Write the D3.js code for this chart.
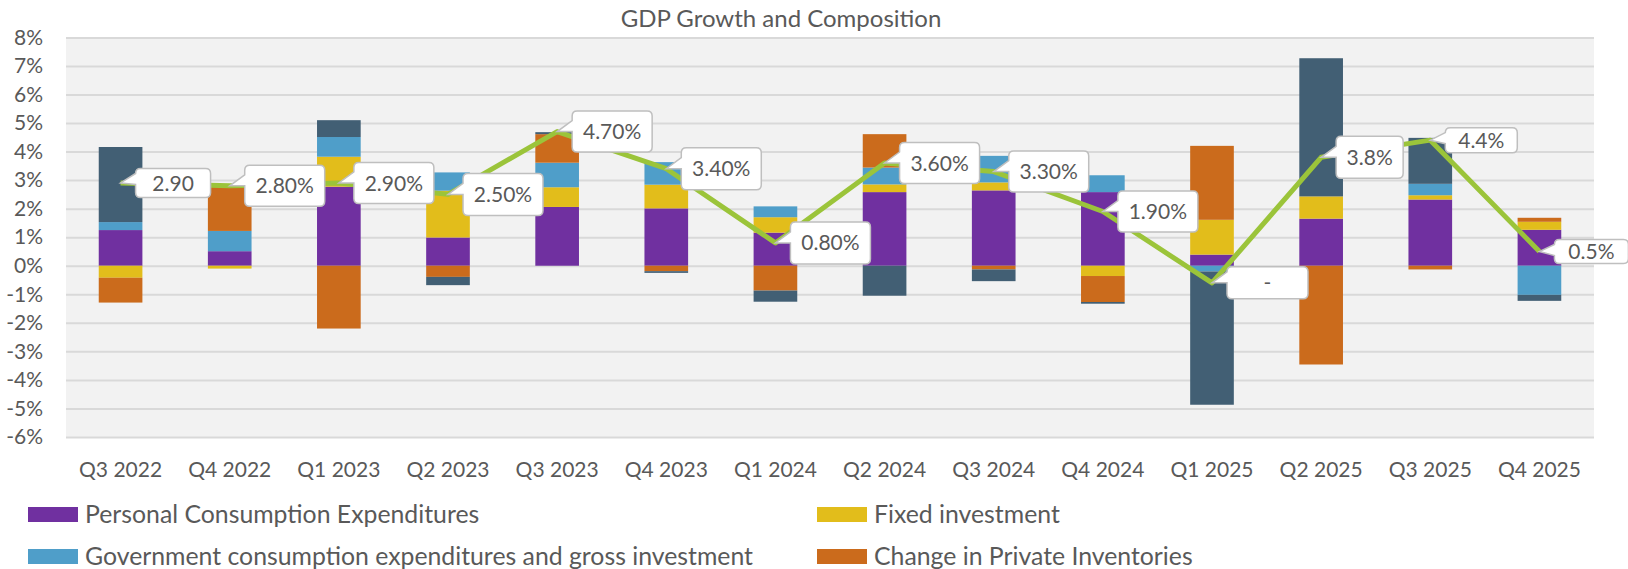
<!DOCTYPE html>
<html>
  <head>
    <meta charset="utf-8"/>
    <script src="https://cdn.jsdelivr.net/npm/d3@7"></script>
    <style type="text/css">

html, body {
  margin: 0;
  padding: 0;
  background: #fff;
}

svg text {
  font-family: Lato, "Open Sans", sans-serif;
  fill: #595959;
}

.grid line {
  stroke: #d9d9d9;
  stroke-width: 2px;
}

.callout path {
  fill: #fff;
  stroke: #bfbfbf;
  stroke-width: 1.5px;
}

    </style>
  </head>
  <body>
    <svg id="chart" width="1628" height="569"></svg>
    <script type="text/javascript">

var quarters = ["Q3 2022", "Q4 2022", "Q1 2023", "Q2 2023", "Q3 2023", "Q4 2023", "Q1 2024",
                "Q2 2024", "Q3 2024", "Q4 2024", "Q1 2025", "Q2 2025", "Q3 2025", "Q4 2025"];

// contributions to growth, percentage points
var pce         = [1.25, 0.51, 2.77, 0.99, 2.06, 2.01, 1.16, 2.58, 2.64, 2.58, 0.39, 1.65, 2.32, 1.26];
var fixedInv    = [-0.42, -0.10, 1.05, 1.64, 0.69, 0.83, 0.54, 0.27, 0.28, -0.36, 1.22, 0.78, 0.15, 0.28];
var government  = [0.28, 0.71, 0.69, 0.64, 0.86, 0.79, 0.38, 0.59, 0.93, 0.59, -0.20, 0.00, 0.40, -1.02];
var inventories = [-0.87, 1.55, -2.20, -0.39, 1.00, -0.19, -0.87, 1.17, -0.13, -0.91, 2.59, -3.46, -0.13, 0.14];
var netExports  = [2.63, 0.00, 0.59, -0.29, 0.07, -0.06, -0.39, -1.05, -0.41, -0.06, -4.67, 4.84, 1.61, -0.21];

var gdp = [2.9, 2.8, 2.9, 2.5, 4.7, 3.4, 0.8, 3.6, 3.3, 1.9, -0.6, 3.8, 4.4, 0.5];
var gdpLabels = ["2.90", "2.80%", "2.90%", "2.50%", "4.70%", "3.40%", "0.80%", "3.60%",
                 "3.30%", "1.90%", "-", "3.8%", "4.4%", "0.5%"];

var yTicks = [-6, -5, -4, -3, -2, -1, 0, 1, 2, 3, 4, 5, 6, 7, 8];

var seriesNames = ["Personal Consumption Expenditures", "Fixed investment",
                   "Government consumption expenditures and gross investment",
                   "Change in Private Inventories", "Net exports"];

var colors = ["#7030a0", "#e2bd1b", "#4f9ec9", "#cb6b1c", "#425f74"];

// callout box sizes (the Excel labels were resized by hand)
var calloutW = [75, 80, 80, 80, 80, 80, 80, 80, 80, 80, 81, 67, 72, 74];
var calloutH = [29, 41, 41, 42, 41, 42, 42, 41, 41, 41, 32, 42, 25, 24];

var svg = d3.select("#chart");

var plotLeft = 66, plotRight = 1594, plotTop = 37.4, plotBottom = 437;

var x = d3.scaleBand()
    .domain(quarters)
    .range([plotLeft, plotRight])
    .paddingInner(0.6)
    .paddingOuter(0.3);

var y = d3.scaleLinear()
    .domain([-6, 8])
    .range([plotBottom, plotTop]);

// rows for stacking
var rows = quarters.map(function(q, i) {
  return {q: q, s0: pce[i], s1: fixedInv[i], s2: government[i], s3: inventories[i], s4: netExports[i]};
});

var stack = d3.stack()
    .keys(["s0", "s1", "s2", "s3", "s4"])
    .offset(d3.stackOffsetDiverging);

var layers = stack(rows);

// plot background
svg.append("rect")
    .attr("x", plotLeft)
    .attr("y", plotTop)
    .attr("width", plotRight - plotLeft)
    .attr("height", plotBottom - plotTop)
    .attr("fill", "#f2f2f2");

// gridlines
svg.append("g")
    .attr("class", "grid")
    .attr("transform", "translate(" + plotLeft + ",0)")
    .call(d3.axisLeft(y).tickValues(yTicks).tickSize(-(plotRight - plotLeft)).tickFormat(""))
    .call(function(g) { g.select(".domain").remove(); });

// y axis labels
svg.append("g")
    .attr("transform", "translate(" + plotLeft + ",0)")
    .call(d3.axisLeft(y).tickValues(yTicks).tickSize(0).tickPadding(23)
      .tickFormat(function(d) { return d + "%"; }))
    .call(function(g) {
      g.select(".domain").remove();
      g.selectAll("text").attr("font-size", 21).attr("fill", "#595959")
        .attr("font-family", "Lato, sans-serif");
    });

// x axis labels
svg.append("g")
    .attr("transform", "translate(0," + plotBottom + ")")
    .call(d3.axisBottom(x).tickSize(0).tickPadding(25))
    .call(function(g) {
      g.select(".domain").remove();
      g.selectAll("text").attr("font-size", 21).attr("fill", "#595959")
        .attr("font-family", "Lato, sans-serif");
    });

// stacked bars
svg.append("g")
  .selectAll("g")
  .data(layers)
  .enter().append("g")
    .attr("fill", function(d, i) { return colors[i]; })
  .selectAll("rect")
  .data(function(d) { return d; })
  .enter().append("rect")
    .attr("x", function(d) { return x(d.data.q); })
    .attr("width", x.bandwidth())
    .attr("y", function(d) { return y(Math.max(d[0], d[1])); })
    .attr("height", function(d) { return Math.abs(y(d[0]) - y(d[1])); });

// GDP line
var line = d3.line()
    .x(function(d, i) { return x(quarters[i]) + x.bandwidth() / 2; })
    .y(function(d) { return y(d); });

svg.append("path")
    .datum(gdp)
    .attr("d", line)
    .attr("fill", "none")
    .attr("stroke", "#9bc43a")
    .attr("stroke-width", 5)
    .attr("stroke-linejoin", "round");

// callouts: box to the right of the point with a wedge pointing back to it
function calloutPath(px, py, bx, by, w, h) {
  var r = 5;
  var b0 = Math.max(by + r, Math.min(py - 11, by + h - r - 12));
  var b1 = b0 + 11;
  return "M" + (bx + r) + "," + by +
    "H" + (bx + w - r) + "Q" + (bx + w) + "," + by + " " + (bx + w) + "," + (by + r) +
    "V" + (by + h - r) + "Q" + (bx + w) + "," + (by + h) + " " + (bx + w - r) + "," + (by + h) +
    "H" + (bx + r) + "Q" + bx + "," + (by + h) + " " + bx + "," + (by + h - r) +
    "V" + b1 + "L" + px + "," + py + "L" + bx + "," + b0 +
    "V" + (by + r) + "Q" + bx + "," + by + " " + (bx + r) + "," + by + "Z";
}

var callouts = svg.append("g")
  .selectAll("g")
  .data(gdp)
  .enter().append("g")
    .attr("class", "callout");

callouts.append("path")
    .attr("d", function(d, i) {
      var px = x(quarters[i]) + x.bandwidth() / 2, py = y(d);
      return calloutPath(px, py, px + 15, py - calloutH[i] / 2, calloutW[i], calloutH[i]);
    });

callouts.append("text")
    .attr("x", function(d, i) { return x(quarters[i]) + x.bandwidth() / 2 + 15 + calloutW[i] / 2; })
    .attr("y", function(d) { return y(d); })
    .attr("dy", "0.36em")
    .attr("text-anchor", "middle")
    .attr("font-size", 21)
    .text(function(d, i) { return gdpLabels[i]; });

// title
svg.append("text")
    .attr("x", 781)
    .attr("y", 27)
    .attr("text-anchor", "middle")
    .attr("font-size", 24)
    .text("GDP Growth and Composition");

// legend (four entries, two columns)
var legend = svg.append("g")
  .selectAll("g")
  .data(seriesNames.slice(0, 4))
  .enter().append("g")
    .attr("transform", function(d, i) {
      return "translate(" + (i % 2 ? 817 : 28) + "," + (i < 2 ? 507 : 549) + ")";
    });

legend.append("rect")
    .attr("width", 50)
    .attr("height", 15)
    .attr("fill", function(d) { return colors[seriesNames.indexOf(d)]; });

legend.append("text")
    .attr("x", 57)
    .attr("y", 7.5)
    .attr("dy", "0.36em")
    .attr("font-size", 24.8)
    .text(function(d) { return d; });

    </script>
  </body>
</html>
